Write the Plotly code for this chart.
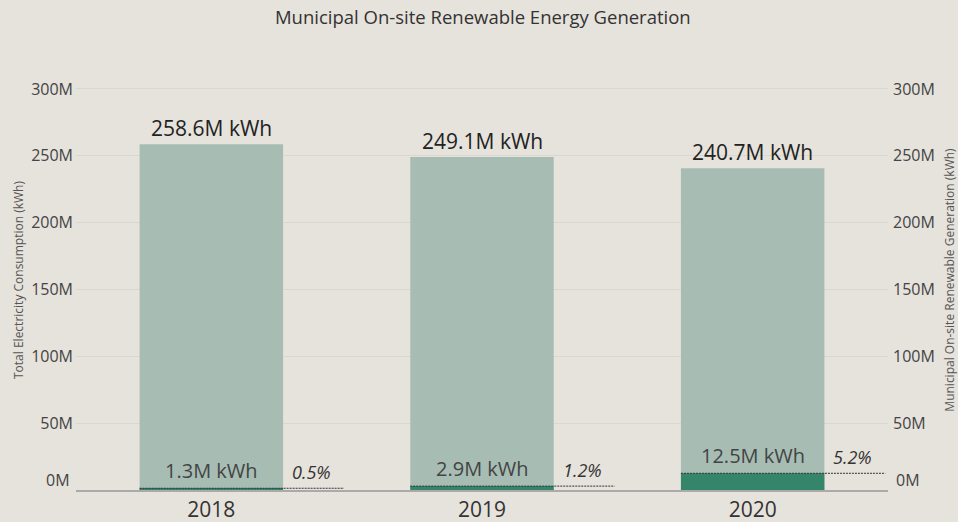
import plotly.graph_objects as go

years = ["2018", "2019", "2020"]
total_kwh = [258.6e6, 249.1e6, 240.7e6]
renewable_kwh = [1.3e6, 2.9e6, 12.5e6]
total_labels = ["258.6M kWh", "249.1M kWh", "240.7M kWh"]
renewable_labels = ["1.3M kWh", "2.9M kWh", "12.5M kWh"]
y_ticks = [0, 50e6, 100e6, 150e6, 200e6, 250e6, 300e6]
y_ticktext = ["0M", "50M", "100M", "150M", "200M", "250M", "300M"]

BG = "#e6e2dc"
LIGHT = "#a7bdb4"
DARK = "#35856a"
TXT = "#333333"
FONT = "Open Sans"
BW = 0.53
YMAX = 314.2e6

xs = list(range(len(years)))
pcts = [r / t * 100 for r, t in zip(renewable_kwh, total_kwh)]

fig = go.Figure()
fig.add_trace(go.Bar(x=xs, y=total_kwh, width=BW, marker=dict(color=LIGHT, line_width=0),
                     hoverinfo="skip", showlegend=False))
fig.add_trace(go.Bar(x=xs, y=renewable_kwh, width=BW, marker=dict(color=DARK, line_width=0),
                     hoverinfo="skip", showlegend=False, yaxis="y2"))

# dashed reference lines at renewable level
for i, r in zip(xs, renewable_kwh):
    fig.add_trace(go.Scatter(x=[i - BW / 2, i + 0.49], y=[r, r], mode="lines",
                             line=dict(color="#333333", width=1, dash="2px,1px"),
                             hoverinfo="skip", showlegend=False, yaxis="y2"))

annotations = []
for i, t, r, tl, rl, p in zip(xs, total_kwh, renewable_kwh, total_labels, renewable_labels, pcts):
    annotations.append(dict(x=i, y=t, xref="x", yref="y", text=tl, showarrow=False,
                            yanchor="bottom", yshift=0,
                            font=dict(family=FONT, size=21, color="#222")))
    annotations.append(dict(x=i, y=r, xref="x", yref="y", text=rl, showarrow=False,
                            yanchor="bottom", yshift=2,
                            font=dict(family=FONT, size=20, color="#444")))
    annotations.append(dict(x=i + BW / 2, y=r, xref="x", yref="y", text=f"<i>{p:.1f}%</i>",
                            showarrow=False, xanchor="left", yanchor="bottom", xshift=7, yshift=2,
                            font=dict(family=FONT, size=18, color="#333")))

# zero-level tick labels sit slightly above the baseline (as in the reference)
tick_main = [("" if v == 0 else t) for v, t in zip(y_ticks, y_ticktext)]
zero_text = y_ticktext[y_ticks.index(0)]
annotations.append(dict(x=0, y=0, xref="paper", yref="y", text=zero_text, showarrow=False,
                        xanchor="right", yanchor="middle", xshift=-4, yshift=10,
                        font=dict(family=FONT, size=16, color="#444")))
annotations.append(dict(x=1, y=0, xref="paper", yref="y", text=zero_text, showarrow=False,
                        xanchor="left", yanchor="middle", xshift=6, yshift=10,
                        font=dict(family=FONT, size=16, color="#444")))

fig.update_layout(
    width=958, height=522,
    paper_bgcolor=BG, plot_bgcolor=BG,
    margin=dict(l=76, r=70, t=70, b=32),
    barmode="overlay",
    title=dict(text="Municipal On-site Renewable Energy Generation", x=0.504, xanchor="center",
               y=0.967, yanchor="middle",
               font=dict(family=FONT, size=18.5, color=TXT)),
    xaxis=dict(tickvals=xs, ticktext=years, range=[-0.5, 2.5], showgrid=False, zeroline=False,
               showline=True, linecolor="#aaaaaa", linewidth=2, automargin=False,
               tickfont=dict(family=FONT, size=21, color=TXT), ticks=""),
    yaxis=dict(range=[0, YMAX], tickvals=y_ticks, ticktext=tick_main, automargin=False,
               showgrid=True, gridcolor="#dad6d0", gridwidth=1, zeroline=False,
               ticklabelstandoff=2,
               tickfont=dict(family=FONT, size=16, color="#444"),
               title=dict(text="Total Electricity Consumption (kWh)",
                          font=dict(family=FONT, size=12, color="#555"), standoff=4)),
    yaxis2=dict(range=[0, YMAX], tickvals=y_ticks, ticktext=tick_main, overlaying="y", side="right",
                showgrid=False, zeroline=False, automargin=False,
                ticklabelstandoff=4,
                tickfont=dict(family=FONT, size=16, color="#444"),
                title=dict(text="Municipal On-site Renewable Generation (kWh)",
                           font=dict(family=FONT, size=12, color="#555"), standoff=12)),
    annotations=annotations,
)

fig.write_html("out.html", config={"displayModeBar": False},
               post_script="document.body.style.margin='0';")
